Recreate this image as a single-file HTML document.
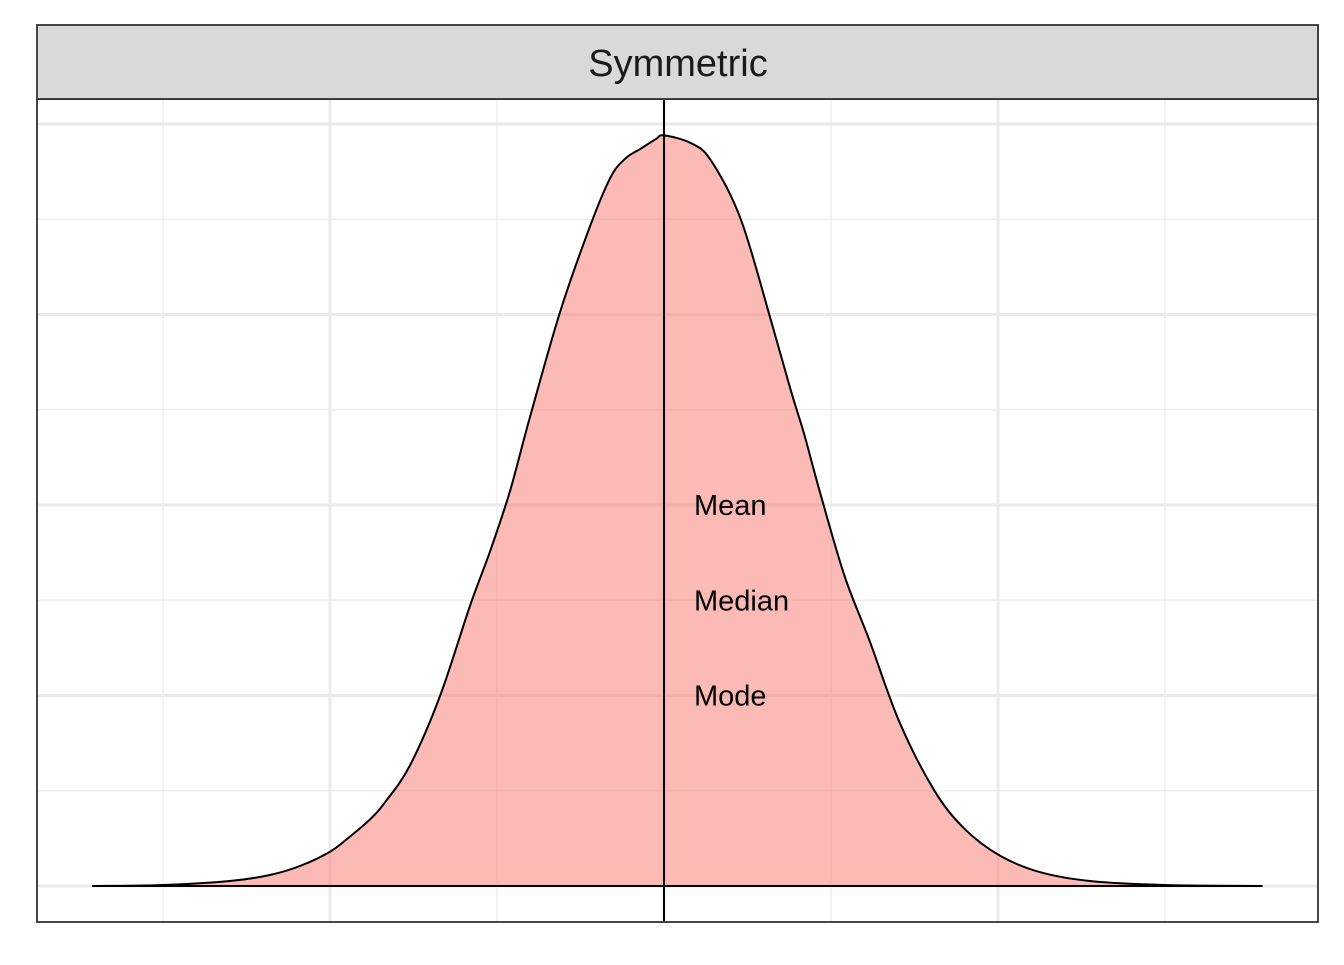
<!DOCTYPE html>
<html><head><meta charset="utf-8"><style>
html,body{margin:0;padding:0;background:#fff;}
svg text{font-family:"Liberation Sans",Arial,sans-serif;}
</style></head><body>
<svg id="chart" width="1344" height="960" viewBox="0 0 1344 960">
<rect x="0" y="0" width="1344" height="960" fill="#fff"/>
<g id="grid"></g>
<g id="marks"></g>
<rect x="37" y="99" width="1281" height="823" fill="none" stroke="#333" stroke-width="1.8"/>
<rect x="37" y="25" width="1281" height="74" fill="#d9d9d9" stroke="#333" stroke-width="1.8"/>
<text x="678" y="76" font-size="38" text-anchor="middle" fill="#1a1a1a">Symmetric</text>
</svg>
<script>
const xs = [-3.42,-3.0,-2.6,-2.36,-2.18,-2.0,-1.88,-1.76,-1.67,-1.52,-1.34,-1.16,-1.04,-0.92,-0.80,-0.62,-0.44,-0.32,-0.23,-0.14,-0.05,0,0.16,0.28,0.46,0.64,0.76,0.84,0.93,1.08,1.23,1.41,1.62,1.80,2.01,2.25,2.55,3.0,3.58];
const dens = [0,0.0005,0.0026,0.0058,0.0105,0.018,0.026,0.035,0.044,0.0635,0.10,0.1475,0.176,0.208,0.247,0.302,0.347,0.372,0.382,0.387,0.392,0.394,0.390,0.381,0.350,0.297,0.260,0.237,0.208,0.163,0.129,0.086,0.050,0.030,0.016,0.0073,0.0026,0.0005,0];
const xMajor = [-2,0,2];
const xMinor = [-3,-1,1,3];
const yMajor = [0,0.1,0.2,0.3,0.4];
const yMinor = [0.05,0.15,0.25,0.35];
const centerValue = 0;
const labels = ["Mean","Median","Mode"];
const labelY = [0.2,0.15,0.1];

const X = v => 664 + v*167;
const Y = v => 886 - v*1905;
const NS = "http://www.w3.org/2000/svg";
const grid = document.getElementById('grid');
const marks = document.getElementById('marks');
function line(p,x1,y1,x2,y2,c,w){const l=document.createElementNS(NS,'line');l.setAttribute('x1',x1);l.setAttribute('y1',y1);l.setAttribute('x2',x2);l.setAttribute('y2',y2);l.setAttribute('stroke',c);l.setAttribute('stroke-width',w);p.appendChild(l);return l;}
yMinor.forEach(v=>{const l=line(grid,37,Y(v),1318,Y(v),'#ebebeb',1.2);

});
xMinor.forEach(v=>{const l=line(grid,X(v),99,X(v),922,'#ebebeb',1.2);

});
yMajor.forEach(v=>{const l=line(grid,37,Y(v),1318,Y(v),'#ebebeb',3);

});
xMajor.forEach(v=>{const l=line(grid,X(v),99,X(v),922,'#ebebeb',3);

});
const pts = xs.map((x,i)=>[X(x),Y(dens[i])]);
let d='M'+pts[0][0].toFixed(1)+','+pts[0][1].toFixed(1);
for(let i=0;i<pts.length-1;i++){
  const p0=pts[Math.max(0,i-1)],p1=pts[i],p2=pts[i+1],p3=pts[Math.min(pts.length-1,i+2)];
  const c1=[p1[0]+(p2[0]-p0[0])/6,p1[1]+(p2[1]-p0[1])/6];
  const c2=[p2[0]-(p3[0]-p1[0])/6,p2[1]-(p3[1]-p1[1])/6];
  d+=' C'+c1[0].toFixed(1)+','+c1[1].toFixed(1)+' '+c2[0].toFixed(1)+','+c2[1].toFixed(1)+' '+p2[0].toFixed(1)+','+p2[1].toFixed(1);
}
const area=document.createElementNS(NS,'path');
area.setAttribute('d',d+' Z');area.setAttribute('fill','#f8766d');area.setAttribute('fill-opacity','0.5');
area.setAttribute('stroke','none');


marks.appendChild(area);
const curve=document.createElementNS(NS,'path');
curve.setAttribute('d',d+' Z');curve.setAttribute('fill','none');curve.setAttribute('stroke','#000');curve.setAttribute('stroke-width','2');curve.setAttribute('stroke-linejoin','round');


marks.appendChild(curve);
const vl=line(marks,X(centerValue),99,X(centerValue),922,'#000',2);


labels.forEach((t,i)=>{const tx=document.createElementNS(NS,'text');
tx.setAttribute('x',X(centerValue)+30);tx.setAttribute('y',Y(labelY[i])+10);
tx.setAttribute('font-size','29');tx.setAttribute('fill','#000');tx.textContent=t;


marks.appendChild(tx);});
</script>
</body></html>
